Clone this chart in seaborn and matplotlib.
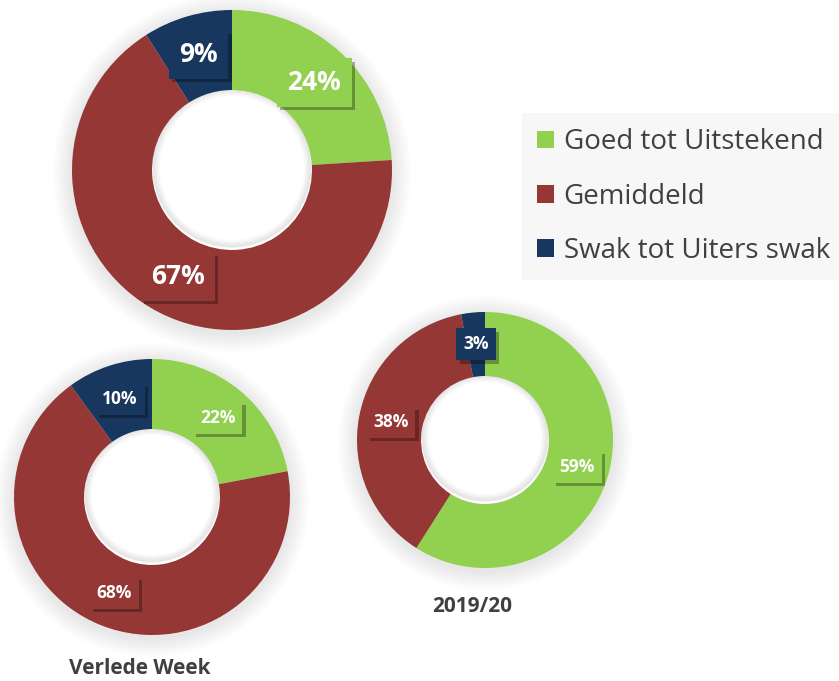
import matplotlib
matplotlib.use("Agg")
import matplotlib.pyplot as plt
import matplotlib.patheffects as pe
from matplotlib.patches import Patch, Circle
import seaborn as sns

categories = ["Goed tot Uitstekend", "Gemiddeld", "Swak tot Uiters swak"]
vandag = [24, 67, 9]
verlede_week = [22, 68, 10]
jaar_2019_20 = [59, 38, 3]
titles = ["", "Verlede Week", "2019/20"]

colors = ["#92D050", "#953735", "#17375E"]

sns.set_theme(style="white")
plt.rcParams["font.family"] = ["Open Sans", "DejaVu Sans"]

W, H = 839, 681
fig = plt.figure(figsize=(W / 100, H / 100), dpi=100)
ax = fig.add_axes([0, 0, 1, 1])

# (values, center x, center y from top, outer r, inner r, label size, title x, title y)
donuts = [
    (vandag, 232, 170, 160, 80, 19, None, None),
    (verlede_week, 152, 497, 138, 68, 12.5, 140, 668),
    (jaar_2019_20, 485, 440, 128, 64, 12.5, 472, 607),
]

for (vals, cx, cy, r, rin, fs, tx, ty), title in zip(donuts, titles):
    cyy = H - cy
    # soft shadow around the ring
    for k in range(12, 0, -1):
        ax.add_patch(Circle((cx, cyy - 3), r + k * 1.6, color="black",
                            alpha=0.009, lw=0, zorder=0))
    ax.add_patch(Circle((cx, cyy), rin, color="white", lw=0, zorder=0.5))
    # faint inner shadow of the hole
    for k in range(1, 7):
        ax.add_patch(Circle((cx, cyy + 2), rin - k * 1.2, fill=False,
                            edgecolor="black", lw=1.4, alpha=0.012 * (7 - k),
                            zorder=0.6))
    total = sum(vals)
    wedges, texts, autotexts = ax.pie(
        vals, colors=colors, startangle=90, counterclock=False,
        center=(cx, cyy), radius=r,
        autopct=lambda p, t=total: f"{round(p * t / 100):d}%",
        pctdistance=1 - (r - rin) / (2 * r),
        wedgeprops=dict(width=r - rin, linewidth=0),
        textprops=dict(color="white", fontsize=fs, fontweight="bold"),
        frame=True)
    for t, c in zip(autotexts, colors):
        t.set_bbox(dict(boxstyle="square,pad=0.4", facecolor=c, edgecolor="none"))
        t.get_bbox_patch().set_path_effects([
            pe.SimplePatchShadow(offset=(2.5, -2.5), shadow_rgbFace="black", alpha=0.3),
            pe.Normal()])
        t.set_zorder(5)
    if title:
        ax.text(tx, H - ty, title, ha="center", va="center",
                fontsize=15, fontweight="bold", color="#404040")

ax.set_xlim(0, W)
ax.set_ylim(0, H)
ax.set_aspect("equal")
ax.axis("off")

handles = [Patch(facecolor=c, edgecolor="none") for c in colors]
leg = fig.legend(handles, categories, loc="upper left",
                 bbox_to_anchor=(522 / W, 1 - 113 / H), frameon=True,
                 fontsize=20, labelcolor="#404040", handlelength=0.6,
                 handleheight=0.6, handletextpad=0.35, labelspacing=0.95,
                 borderpad=0.55, borderaxespad=0, fancybox=False)
leg.get_frame().set_facecolor("#f7f7f7")
leg.get_frame().set_edgecolor("none")
leg.get_frame().set_alpha(1)

fig.savefig("out.png", dpi=100)
